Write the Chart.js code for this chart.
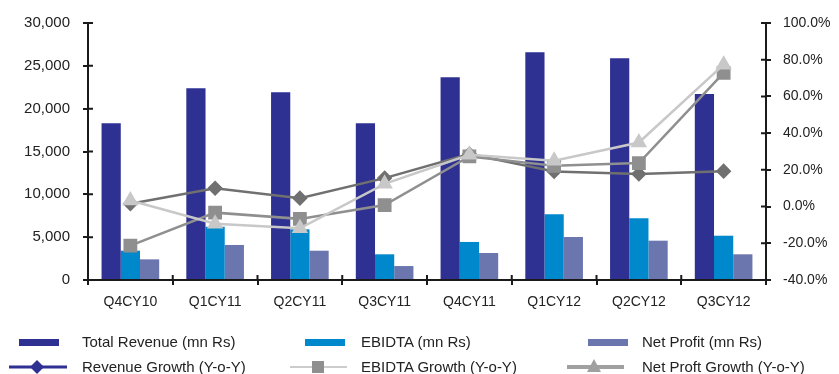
<!DOCTYPE html>
<html>
<head>
<meta charset="utf-8">
<script src="https://cdn.jsdelivr.net/npm/chart.js@4/dist/chart.umd.min.js"></script>
<style>
  html, body { margin: 0; padding: 0; background: #fff; }
  #wrap { position: relative; width: 839px; height: 374px; font-family: 'Liberation Sans', Arial, sans-serif; }
  .lg { position: absolute; font-size: 15px; color: #222; white-space: nowrap; line-height: 18px; }
  .sw { position: absolute; }
</style>
</head>
<body>
<div id="wrap">
  <canvas id="myChart"></canvas>

  <div class="sw" style="left:19px;top:339px;width:40px;height:7px;background:#2E3192"></div>
  <div class="lg" style="left:82px;top:333px">Total Revenue (mn Rs)</div>
  <div class="sw" style="left:305px;top:339px;width:40px;height:7px;background:#0088CC"></div>
  <div class="lg" style="left:361px;top:333px">EBIDTA (mn Rs)</div>
  <div class="sw" style="left:588px;top:339px;width:40px;height:7px;background:#6B76AE"></div>
  <div class="lg" style="left:642px;top:333px">Net Profit (mn Rs)</div>

  <svg class="sw" style="left:0;top:356px" width="839" height="18">
    <line x1="9" y1="11" x2="67" y2="11" stroke="#2E3192" stroke-width="3"/>
    <polygon points="37,4 44,11 37,18 30,11" fill="#2E3192"/>
    <line x1="290" y1="11" x2="347" y2="11" stroke="#999" stroke-width="1"/>
    <rect x="312" y="5" width="12" height="12" fill="#8f8f8f"/>
    <line x1="567" y1="11" x2="624" y2="11" stroke="#a0a0a0" stroke-width="4"/>
    <polygon points="594,3 601,16 587,16" fill="#a0a0a0"/>
  </svg>
  <div class="lg" style="left:82px;top:358px">Revenue Growth (Y-o-Y)</div>
  <div class="lg" style="left:361px;top:358px">EBIDTA Growth (Y-o-Y)</div>
  <div class="lg" style="left:642px;top:358px">Net Proft Growth (Y-o-Y)</div>
</div>

<script>
var quarters = ['Q4CY10', 'Q1CY11', 'Q2CY11', 'Q3CY11', 'Q4CY11', 'Q1CY12', 'Q2CY12', 'Q3CY12'];

// mn Rs
var totalRevenue = [18290, 22380, 21910, 18290, 23660, 26580, 25880, 21710];
var ebidta = [3420, 6220, 5910, 3000, 4440, 7670, 7200, 5170];
var netProfit = [2410, 4090, 3420, 1630, 3150, 5020, 4590, 3000];

// Y-o-Y growth, %
var revenueGrowth = [1.5, 10.0, 4.6, 15.5, 28.6, 19.1, 17.8, 19.3];
var ebidtaGrowth = [-21.3, -3.3, -6.7, 0.8, 27.3, 22.2, 23.7, 72.8];
var netProfitGrowth = [3.3, -9.4, -11.8, 12.4, 28.2, 25.0, 34.9, 77.3];

var leftTicks = { min: 0, max: 30000, step: 5000 };
var rightTicks = { min: -40, max: 100, step: 20 };

// ticks that cross the axis line (inner half drawn here)
var crossTicks = {
    id: 'crossTicks',
    afterDatasetsDraw: function(chart) {
        var ctx = chart.ctx;
        var x = chart.scales.x, y = chart.scales.y, y1 = chart.scales.y1;
        ctx.save();
        ctx.strokeStyle = '#1a1a1a';
        ctx.lineWidth = 2;
        ctx.beginPath();
        y.ticks.forEach(function(t) {
            var py = y.getPixelForValue(t.value);
            ctx.moveTo(y.right, py);
            ctx.lineTo(y.right + 5, py);
        });
        y1.ticks.forEach(function(t) {
            var py = y1.getPixelForValue(t.value);
            ctx.moveTo(y1.left - 5, py);
            ctx.lineTo(y1.left, py);
        });
        var w = (x.right - x.left) / quarters.length;
        for (var i = 1; i < quarters.length; i++) {
            ctx.moveTo(x.left + i * w, x.top);
            ctx.lineTo(x.left + i * w, x.top - 5);
        }
        ctx.stroke();
        ctx.restore();
    }
};

var tickFont = { family: "'Liberation Sans', Arial, sans-serif", size: 14 };

var ctx = document.getElementById('myChart').getContext('2d');
var chart = new Chart(ctx, {
    type: 'bar',
    data: {
        labels: quarters,
        datasets: [
            {
                type: 'line',
                label: 'Net Proft Growth (Y-o-Y)',
                data: netProfitGrowth,
                yAxisID: 'y1',
                borderColor: '#c8c8c8',
                backgroundColor: '#c8c8c8',
                borderWidth: 2.5,
                pointStyle: 'triangle',
                pointRadius: 7,
                tension: 0,
                order: 0
            },
            {
                type: 'line',
                label: 'EBIDTA Growth (Y-o-Y)',
                data: ebidtaGrowth,
                yAxisID: 'y1',
                borderColor: '#8f8f8f',
                backgroundColor: '#8f8f8f',
                borderWidth: 2.5,
                pointStyle: 'rect',
                pointRadius: 8,
                tension: 0,
                order: 1
            },
            {
                type: 'line',
                label: 'Revenue Growth (Y-o-Y)',
                data: revenueGrowth,
                yAxisID: 'y1',
                borderColor: '#707070',
                backgroundColor: '#707070',
                borderWidth: 2.5,
                pointStyle: 'rectRot',
                pointRadius: 6,
                tension: 0,
                order: 2
            },
            {
                label: 'Total Revenue (mn Rs)',
                data: totalRevenue,
                backgroundColor: '#2E3192',
                order: 3
            },
            {
                label: 'EBIDTA (mn Rs)',
                data: ebidta,
                backgroundColor: '#0088CC',
                order: 3
            },
            {
                label: 'Net Profit (mn Rs)',
                data: netProfit,
                backgroundColor: '#6B76AE',
                order: 3
            }
        ]
    },
    options: {
        responsive: true,
        maintainAspectRatio: false,
        animation: false,
        layout: {
            padding: { left: 0, right: 0, top: 23, bottom: 64 }
        },
        datasets: {
            bar: { barPercentage: 1, categoryPercentage: 0.68 }
        },
        plugins: {
            legend: { display: false },
            tooltip: { enabled: false }
        },
        scales: {
            x: {
                grid: { drawOnChartArea: false, color: '#1a1a1a', lineWidth: 2, tickLength: 5 },
                border: { color: '#1a1a1a', width: 2 },
                ticks: { font: tickFont, color: '#222', padding: 9, maxRotation: 0 },
                afterFit: function(s) { s.height = 30; }
            },
            y: {
                position: 'left',
                min: leftTicks.min,
                max: leftTicks.max,
                grid: { drawOnChartArea: false, color: '#1a1a1a', lineWidth: 2, tickLength: 5 },
                border: { color: '#1a1a1a', width: 2 },
                ticks: {
                    stepSize: leftTicks.step,
                    font: { family: tickFont.family, size: 15 },
                    color: '#222',
                    padding: 13
                },
                afterFit: function(s) { s.width = 88; }
            },
            y1: {
                position: 'right',
                min: rightTicks.min,
                max: rightTicks.max,
                grid: { drawOnChartArea: false, color: '#1a1a1a', lineWidth: 2, tickLength: 5 },
                border: { color: '#1a1a1a', width: 2 },
                ticks: {
                    stepSize: rightTicks.step,
                    font: tickFont,
                    color: '#222',
                    padding: 12,
                    callback: function(v) { return v.toFixed(1) + '%'; }
                },
                afterFit: function(s) { s.width = 73; }
            }
        }
    },
    plugins: [crossTicks]
});
</script>
</body>
</html>
